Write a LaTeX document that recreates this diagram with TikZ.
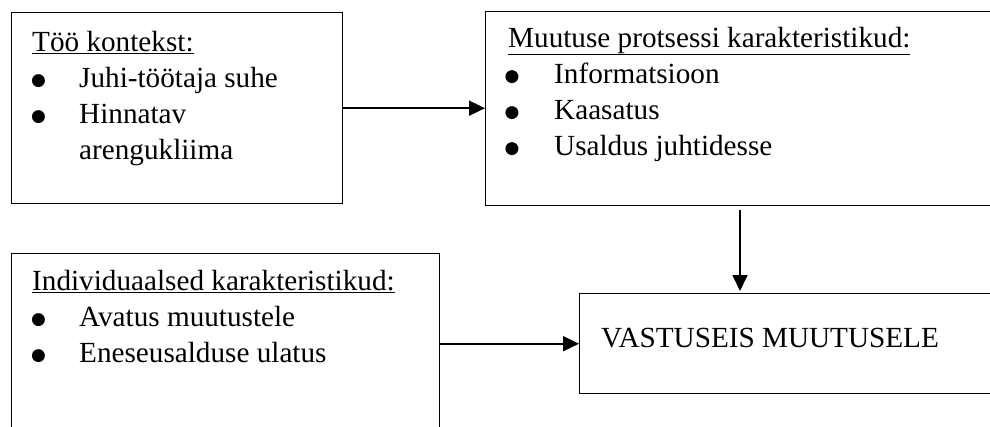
\documentclass[tikz,border=0pt]{standalone}
\usepackage{fontspec}
\setmainfont{Liberation Serif}
\newfontfamily\dejavu{DejaVu Sans}
\usetikzlibrary{arrows.meta}
\begin{document}
\begin{tikzpicture}[x=1pt,y=-1pt,
  box/.style={draw,line width=1.4pt,rectangle,anchor=north west,inner sep=0pt},
  txt/.style={anchor=base west,inner sep=0pt,font=\fontsize{29.2}{35}\selectfont},
  bul/.style={anchor=base,inner sep=0pt,font=\dejavu\fontsize{17}{19}\selectfont},
  conn/.style={line width=1.8pt,-{Triangle[length=16pt,width=15pt]}}]
\useasboundingbox (0,0) rectangle (990,426);
% boxes
\node[box,minimum width=331pt,minimum height=191pt] (ctx) at (11,12) {};
\node[box,minimum width=520pt,minimum height=194pt] (proc) at (485,11) {};
\node[box,minimum width=428pt,minimum height=200pt] (ind) at (11,253) {};
\node[box,minimum width=420pt,minimum height=100pt] (resp) at (579,293) {};
% texts box 1
\node[txt] (t1h) at (32,51) {\underline{Töö kontekst:}};
\node[bul] (t1b1) at (38.5,85) {●};
\node[txt] (t1a) at (79,87) {Juhi-töötaja suhe};
\node[bul] (t1b2) at (38.5,121) {●};
\node[txt] (t1c) at (79,123) {Hinnatav};
\node[txt] (t1d) at (79,159) {arengukliima};
% texts box 2
\node[txt] (t2h) at (508,47) {\underline{Muutuse protsessi karakteristikud:}};
\node[bul] (t2b1) at (512,81) {●};
\node[txt] (t2a) at (554,83) {Informatsioon};
\node[bul] (t2b2) at (512,117) {●};
\node[txt] (t2b) at (554,119) {Kaasatus};
\node[bul] (t2b3) at (512,153) {●};
\node[txt] (t2c) at (554,155) {Usaldus juhtidesse};
% texts box 3
\node[txt] (t3h) at (32,290) {\underline{Individuaalsed karakteristikud:}};
\node[bul] (t3b1) at (38.5,324) {●};
\node[txt] (t3a) at (79,326) {Avatus muutustele};
\node[bul] (t3b2) at (38.5,360) {●};
\node[txt] (t3b) at (79,362) {Eneseusalduse ulatus};
% box 4
\node[txt] (t4) at (601,347) {VASTUSEIS MUUTUSELE};
% connectors
\coordinate (vx) at (740,0);
\draw[conn] (ctx.east) -- (proc.west |- ctx.east);
\draw[conn,shorten <=4pt,shorten >=2pt] (vx |- proc.south) -- (vx |- resp.north);
\draw[conn] (ind.east |- resp.west) -- (resp.west);
\end{tikzpicture}
\end{document}
